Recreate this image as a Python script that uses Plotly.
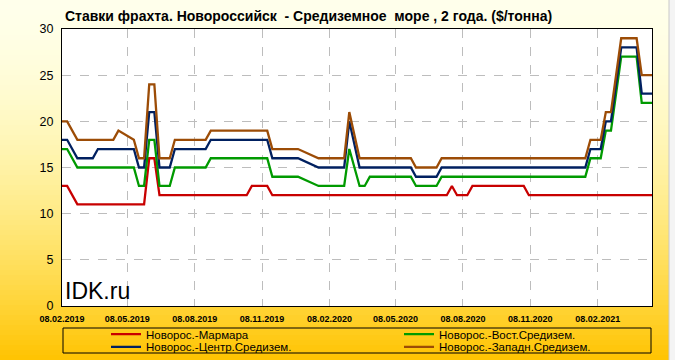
import plotly.graph_objects as go

# ---------------- data ----------------
dates = ["2019-02-08", "2019-02-15", "2019-03-01", "2019-03-22", "2019-03-29", "2019-04-19",
         "2019-04-26", "2019-05-17", "2019-05-24", "2019-05-31", "2019-06-07", "2019-06-14",
         "2019-06-21", "2019-07-05", "2019-07-12", "2019-08-23", "2019-08-30", "2019-10-18",
         "2019-10-25", "2019-11-15", "2019-11-22", "2019-12-27", "2020-01-24", "2020-02-28",
         "2020-03-06", "2020-03-20", "2020-03-27", "2020-04-03", "2020-05-29", "2020-06-05",
         "2020-07-03", "2020-07-10", "2020-07-17", "2020-07-24", "2020-07-31", "2020-08-14",
         "2020-08-21", "2020-10-30", "2020-11-06", "2021-01-22", "2021-01-29", "2021-02-12",
         "2021-02-19", "2021-02-26", "2021-03-12", "2021-04-02", "2021-04-09", "2021-04-23"]

marmara = [13, 13, 11, 11, 11, 11, 11, 11, 11, 11, 16, 16, 12, 12, 12, 12, 12, 12, 13, 13, 12, 12, 12, 12,
           12, 12, 12, 12, 12, 12, 12, 12, 12, 13, 12, 12, 13, 13, 12, 12, 12, 12, 12, 12, 12, 12, 12, 12]
vost = [17, 17, 15, 15, 15, 15, 15, 15, 13, 13, 18, 18, 13, 13, 15, 15, 16, 16, 16, 16, 14, 14, 13, 13,
        17, 13, 13, 14, 14, 13, 13, 14, 14, 14, 14, 14, 14, 14, 14, 14, 16, 16, 19, 19, 27, 27, 22, 22]
centr = [18, 18, 16, 16, 17, 17, 17, 17, 15, 15, 21, 21, 15, 15, 17, 17, 18, 18, 18, 18, 16, 16, 15, 15,
         20, 15, 15, 15, 15, 14, 14, 15, 15, 15, 15, 15, 15, 15, 15, 15, 17, 17, 20, 20, 28, 28, 23, 23]
zapad = [20, 20, 18, 18, 18, 18, 19, 18, 16, 16, 24, 24, 16, 16, 18, 18, 19, 19, 19, 19, 17, 17, 16, 16,
         21, 16, 16, 16, 16, 15, 15, 16, 16, 16, 16, 16, 16, 16, 16, 16, 18, 18, 21, 21, 29, 29, 25, 25]

series_names = ["Новорос.-Мармара", "Новорос.-Вост.Средизем.",
                "Новорос.-Центр.Средизем.", "Новорос.-Западн.Средизем."]

tick_dates = ["2019-02-08", "2019-05-08", "2019-08-08", "2019-11-08", "2020-02-08",
              "2020-05-08", "2020-08-08", "2020-11-08", "2021-02-08"]
tick_labels = ["08.02.2019", "08.05.2019", "08.08.2019", "08.11.2019", "08.02.2020",
               "08.05.2020", "08.08.2020", "08.11.2020", "08.02.2021"]

title_text = "Ставки фрахта. Новороссийск\u00a0 - Средиземное\u00a0 море , 2 года. ($/тонна)"

# ---------------- layout geometry ----------------
W, H = 675, 360
L, R, T, B = 62, 23, 29, 54
PW, PH = W - L - R, H - T - B


def px(xp):
    return (xp - L) / PW


def py(yp):
    return (H - B - yp) / PH


colors = {"m": "#C80000", "v": "#009A00", "c": "#002060", "z": "#9C4C06"}
FONT = "Liberation Sans"

traces = [
    (marmara, series_names[0], colors["m"], "legend"),
    (vost, series_names[1], colors["v"], "legend2"),
    (centr, series_names[2], colors["c"], "legend3"),
    (zapad, series_names[3], colors["z"], "legend4"),
]

fig = go.Figure()
for vals, name, col, lg in traces:
    fig.add_trace(go.Scatter(x=dates, y=vals, name=name, mode="lines",
                             line=dict(color=col, width=2.3), legend=lg))

# background gradient strips
shapes = []
n = 72
for i in range(n):
    y0p = i * H / n
    y1p = (i + 1) * H / n
    t = (i + 0.5) / n
    g = int(round(255 - 60 * t ** 2))
    b = int(round(235 * (1 - t ** 1.6)))
    shapes.append(dict(type="rect", xref="paper", yref="paper", layer="below",
                       x0=px(0), x1=px(W), y0=py(y1p), y1=py(y0p),
                       fillcolor=f"rgb(255,{g},{b})", line=dict(width=0)))
# right edge strip
shapes.append(dict(type="rect", xref="paper", yref="paper", layer="below",
                   x0=px(669), x1=px(W), y0=py(H), y1=py(0),
                   fillcolor="#F4F4F4", line=dict(width=0)))
shapes.append(dict(type="line", xref="paper", yref="paper", layer="below",
                   x0=px(669), x1=px(669), y0=py(H), y1=py(0),
                   line=dict(color="#C8C8C8", width=1)))
# plot area background
shapes.append(dict(type="rect", xref="paper", yref="paper", layer="below",
                   x0=0, x1=1, y0=0, y1=1, fillcolor="white", line=dict(width=0)))
# legend frame
shapes.append(dict(type="rect", xref="paper", yref="paper", layer="above",
                   x0=px(63), x1=px(651), y0=py(353), y1=py(328),
                   fillcolor="rgba(0,0,0,0)", line=dict(color="black", width=1)))


def legend_box(xp, yp):
    return dict(x=px(xp), y=py(yp), xanchor="left", yanchor="middle",
                orientation="v", bgcolor="rgba(0,0,0,0)", borderwidth=0,
                font=dict(family=FONT, size=11.5), tracegroupgap=0, itemwidth=30)


fig.update_layout(
    width=W, height=H,
    margin=dict(l=L, r=R, t=T, b=B, autoexpand=False),
    paper_bgcolor="#FFF6C8",
    plot_bgcolor="white",
    font=dict(family=FONT, color="black"),
    title=dict(text=title_text, x=65 / W, xanchor="left", xref="container",
               y=1 - 16 / H, yanchor="middle", yref="container",
               font=dict(family=FONT, size=14, weight="bold", color="black")),
    shapes=shapes,
    showlegend=True,
    legend=legend_box(106, 334.2),
    legend2=legend_box(399, 334.2),
    legend3=legend_box(106, 346.8),
    legend4=legend_box(399, 346.8),
    annotations=[dict(text="IDK.ru", xref="paper", yref="paper", x=px(63), y=py(291),
                      xanchor="left", yanchor="middle", showarrow=False,
                      font=dict(family=FONT, size=23, color="black"))],
)

fig.update_xaxes(
    type="date", range=["2019-02-08", "2021-04-23"],
    tickmode="array", tickvals=tick_dates, ticktext=tick_labels,
    tickfont=dict(family=FONT, size=9, weight="bold"), ticklabelstandoff=4,
    showgrid=True, gridcolor="#BDBDBD", griddash="dash", gridwidth=1,
    showline=True, linecolor="black", linewidth=1, mirror=True,
    ticks="", zeroline=False, fixedrange=True,
)
fig.update_yaxes(
    range=[0, 30], dtick=5, tick0=0,
    tickfont=dict(family=FONT, size=12.5), ticklabelstandoff=5,
    showgrid=True, gridcolor="#BDBDBD", griddash="dash", gridwidth=1,
    showline=True, linecolor="black", linewidth=1, mirror=True,
    ticks="", zeroline=False, fixedrange=True,
)

fig.write_html("out.html", config={"displayModeBar": False},
               post_script="document.body.style.margin='0';document.body.style.overflow='hidden';")
